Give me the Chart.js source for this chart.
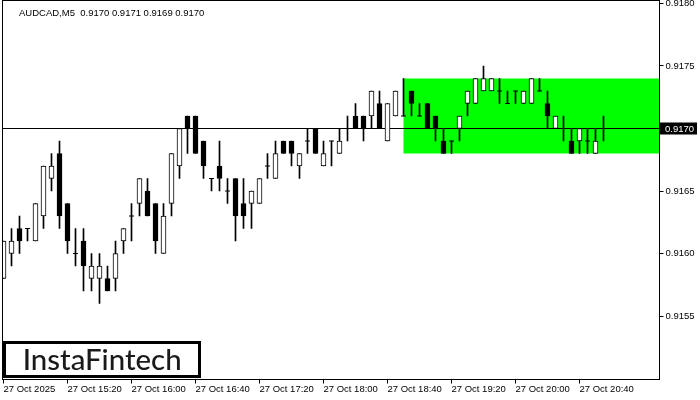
<!DOCTYPE html>
<html>
<head>
<meta charset="utf-8">
<script src="https://cdn.jsdelivr.net/npm/chart.js@4.4.1/dist/chart.umd.min.js"></script>
<style>
  html, body { margin: 0; padding: 0; background: #fff; }
  canvas { display: block; }
</style>
</head>
<body>
<canvas id="chart" width="700" height="400"></canvas>
<script>
const symbol = "AUDCAD,M5";

// M5 candles, 27 Oct 2025 from 14:40
const opens = [
  0.9158, 0.9160, 0.9162, 0.9162, 0.9161, 0.9163, 0.9166, 0.9168, 0.9164, 0.9160,
  0.9161, 0.9158, 0.9158, 0.9158, 0.9158, 0.9161, 0.9163, 0.9164, 0.9165, 0.9164,
  0.9160, 0.9164, 0.9167, 0.9171, 0.9171, 0.9169, 0.9166, 0.9167, 0.9165, 0.9166,
  0.9164, 0.9164, 0.9164, 0.9167, 0.9166, 0.9169, 0.9169, 0.9167, 0.9169, 0.9170,
  0.9167, 0.9169, 0.9168, 0.9170, 0.9171, 0.9171, 0.9171, 0.9172, 0.9169, 0.9171,
  0.9171, 0.9173, 0.9171, 0.9172, 0.9171, 0.9169, 0.9169, 0.9170, 0.9172, 0.9172,
  0.9173, 0.9173, 0.9173, 0.9172, 0.9173, 0.9172, 0.9172, 0.9173, 0.9172, 0.9170,
  0.9170, 0.9169, 0.9169, 0.9169, 0.9168, 0.9170
];
const highs = [
  0.9161, 0.9162, 0.9163, 0.9162, 0.9164, 0.9167, 0.9168, 0.9169, 0.9164, 0.9162,
  0.9162, 0.9160, 0.9160, 0.9159, 0.9161, 0.9162, 0.9164, 0.9166, 0.9166, 0.9164,
  0.9164, 0.9168, 0.9170, 0.9171, 0.9171, 0.9169, 0.9166, 0.9169, 0.9166, 0.9166,
  0.9166, 0.9165, 0.9166, 0.9168, 0.9169, 0.9169, 0.9169, 0.9168, 0.9170, 0.9170,
  0.9169, 0.9169, 0.9170, 0.9171, 0.9172, 0.9171, 0.9173, 0.9173, 0.9172, 0.9173,
  0.9174, 0.9173, 0.9172, 0.9172, 0.9171, 0.9170, 0.9169, 0.9171, 0.9173, 0.9174,
  0.9175, 0.9174, 0.9174, 0.9173, 0.9173, 0.9173, 0.9174, 0.9174, 0.9173, 0.9171,
  0.9171, 0.9170, 0.9170, 0.9170, 0.9170, 0.9171
];
const lows = [
  0.9158, 0.9159, 0.9160, 0.9161, 0.9161, 0.9162, 0.9165, 0.9162, 0.9160, 0.9159,
  0.9157, 0.9157, 0.9156, 0.9157, 0.9157, 0.9160, 0.9161, 0.9163, 0.9163, 0.9160,
  0.9160, 0.9163, 0.9166, 0.9168, 0.9168, 0.9166, 0.9165, 0.9165, 0.9164, 0.9161,
  0.9162, 0.9162, 0.9164, 0.9166, 0.9166, 0.9168, 0.9167, 0.9166, 0.9168, 0.9168,
  0.9167, 0.9167, 0.9168, 0.9169, 0.9170, 0.9169, 0.9170, 0.9170, 0.9169, 0.9171,
  0.9171, 0.9171, 0.9171, 0.9170, 0.9169, 0.9168, 0.9168, 0.9169, 0.9171, 0.9172,
  0.9173, 0.9173, 0.9172, 0.9172, 0.9172, 0.9172, 0.9172, 0.9173, 0.9170, 0.9170,
  0.9169, 0.9168, 0.9168, 0.9168, 0.9168, 0.9169
];
const closes = [
  0.9161, 0.9161, 0.9161, 0.9162, 0.9164, 0.9167, 0.9167, 0.9163, 0.9161, 0.9160,
  0.9159, 0.9159, 0.9159, 0.9157, 0.9160, 0.9162, 0.9163, 0.9166, 0.9163, 0.9161,
  0.9163, 0.9168, 0.9170, 0.9170, 0.9168, 0.9167, 0.9166, 0.9166, 0.9165, 0.9163,
  0.9163, 0.9165, 0.9166, 0.9167, 0.9168, 0.9168, 0.9168, 0.9168, 0.9169, 0.9168,
  0.9168, 0.9169, 0.9169, 0.9170, 0.9170, 0.9170, 0.9173, 0.9170, 0.9172, 0.9173,
  0.9171, 0.9172, 0.9171, 0.9170, 0.9170, 0.9168, 0.9169, 0.9171, 0.9173, 0.9174,
  0.9174, 0.9174, 0.9173, 0.9172, 0.9173, 0.9173, 0.9174, 0.9173, 0.9171, 0.9171,
  0.9170, 0.9168, 0.9170, 0.9169, 0.9169, 0.9170
];

const timeTickIndexes = [0, 8, 16, 24, 32, 40, 48, 56, 64, 72];
const timeTickLabels = [
  "27 Oct 2025", "27 Oct 15:20", "27 Oct 16:00", "27 Oct 16:40", "27 Oct 17:20",
  "27 Oct 18:00", "27 Oct 18:40", "27 Oct 19:20", "27 Oct 20:00", "27 Oct 20:40"
];
const priceTicks = [0.9155, 0.9160, 0.9165, 0.9170, 0.9175, 0.9180];

// highlighted range (from candle index to the right edge)
const zoneStart = 50;
const zoneHigh = 0.9174;
const zoneLow = 0.9168;

const last = closes.length - 1;
const lastPrice = closes[last];
const labelFont = "Liberation Sans";

const wickData = highs.map((h, i) => ({ x: i, y: [lows[i], h] }));
const bodyData = opens.map((o, i) => ({ x: i, y: [o, closes[i]] }));
const dojiData = opens
  .map((o, i) => ({ x: i, y: o }))
  .filter((p) => p.y === closes[p.x]);

// no extra room for the first/last tick labels, the plot fills the frame
function noLabelPadding(scale) {
  scale.paddingTop = 0;
  scale.paddingBottom = 0;
  scale.paddingLeft = 0;
  scale.paddingRight = 0;
}

const decorPlugin = {
  id: "decor",
  beforeDatasetsDraw(chart) {
    const { ctx, chartArea, scales } = chart;
    const x0 = scales.x.getPixelForValue(zoneStart);
    const yTop = scales.y.getPixelForValue(zoneHigh);
    const yBot = scales.y.getPixelForValue(zoneLow);
    ctx.save();
    ctx.fillStyle = "#00ff00";
    ctx.fillRect(x0, yTop, chartArea.right - x0, yBot - yTop);

    const yLast = Math.round(scales.y.getPixelForValue(lastPrice)) + 0.5;
    ctx.strokeStyle = "#000";
    ctx.lineWidth = 1;
    ctx.beginPath();
    ctx.moveTo(chartArea.left, yLast);
    ctx.lineTo(chartArea.right, yLast);
    ctx.stroke();
    ctx.restore();
  },
  afterDraw(chart) {
    const { ctx, chartArea, scales } = chart;
    ctx.save();

    // frame
    ctx.strokeStyle = "#000";
    ctx.lineWidth = 1;
    ctx.strokeRect(chartArea.left, chartArea.top, chartArea.right - chartArea.left, chartArea.bottom - chartArea.top);

    // header
    const ohlc = [opens[last], highs[last], lows[last], closes[last]].map((v) => v.toFixed(4)).join(" ");
    ctx.fillStyle = "#000";
    ctx.font = `9.5px "${labelFont}"`;
    ctx.textBaseline = "middle";
    ctx.textAlign = "left";
    ctx.fillText(`${symbol}  ${ohlc}`, 19, 13);

    // last price label
    const yLast = Math.round(scales.y.getPixelForValue(lastPrice)) + 0.5;
    ctx.fillStyle = "#000";
    ctx.fillRect(660, yLast - 6, 37, 12);
    ctx.fillStyle = "#fff";
    ctx.fillText(lastPrice.toFixed(4), 665, yLast + 0.5);

    // logo
    ctx.fillStyle = "#fff";
    ctx.fillRect(4.5, 342.5, 195, 34);
    ctx.strokeStyle = "#000";
    ctx.lineWidth = 3;
    ctx.strokeRect(4.5, 342.5, 195, 34);
    let size = 28;
    ctx.font = `500 ${size}px Lato`;
    size = size * 159 / ctx.measureText("InstaFintech").width;
    ctx.font = `500 ${size}px Lato`;
    ctx.fillStyle = "#1a1a1a";
    ctx.textBaseline = "alphabetic";
    ctx.fillText("InstaFintech", 22.7, 369.5);
    ctx.restore();
  },
};

new Chart(document.getElementById("chart"), {
  type: "bar",
  data: {
    datasets: [
      {
        type: "line",
        data: dojiData,
        showLine: false,
        pointStyle: "line",
        pointRadius: 2.5,
        pointBorderWidth: 1,
        pointBorderColor: "#000",
        order: 1,
      },
      {
        data: bodyData,
        backgroundColor: (c) => (closes[c.dataIndex] > opens[c.dataIndex] ? "#fff" : "#000"),
        borderColor: "#000",
        borderWidth: 1,
        borderSkipped: false,
        barThickness: 5,
        grouped: false,
        order: 2,
      },
      {
        data: wickData,
        backgroundColor: "#000",
        borderWidth: 0,
        barThickness: 1,
        grouped: false,
        order: 3,
      },
    ],
  },
  options: {
    responsive: false,
    animation: false,
    events: [],
    layout: { autoPadding: false, padding: { left: 2.5, top: 0.5, right: 0, bottom: 0 } },
    plugins: {
      legend: { display: false },
      tooltip: { enabled: false },
    },
    scales: {
      x: {
        type: "linear",
        min: -0.125,
        max: 82,
        offset: false,
        grid: { offset: false, drawOnChartArea: false, drawTicks: true, tickLength: 4, color: "#000" },
        border: { display: false },
        afterBuildTicks: (scale) => {
          scale.ticks = timeTickIndexes.map((v) => ({ value: v }));
        },
        afterFit: (scale) => {
          scale.height = 20.5;
          noLabelPadding(scale);
        },
        ticks: {
          autoSkip: false,
          maxRotation: 0,
          align: "start",
          padding: 0,
          color: "#000",
          font: { family: labelFont, size: 9.5 },
          callback: (v) => timeTickLabels[timeTickIndexes.indexOf(v)],
        },
      },
      y: {
        position: "right",
        min: 0.914992,
        max: 0.918024,
        grid: { drawOnChartArea: false, drawTicks: true, tickLength: 4, color: "#000" },
        border: { display: false },
        afterBuildTicks: (scale) => {
          scale.ticks = priceTicks.map((v) => ({ value: v }));
        },
        afterFit: (scale) => {
          scale.width = 40.5;
          noLabelPadding(scale);
        },
        ticks: {
          padding: 2,
          color: "#000",
          font: { family: labelFont, size: 9.5 },
          callback: (v) => v.toFixed(4),
        },
      },
    },
  },
  plugins: [decorPlugin],
});
</script>
</body>
</html>
